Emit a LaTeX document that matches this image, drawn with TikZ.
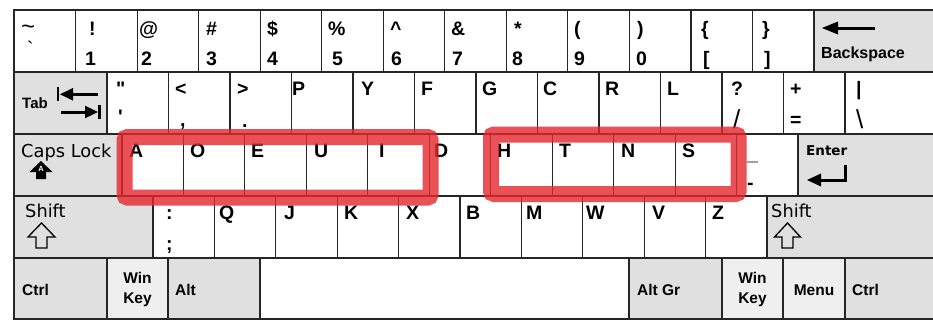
\documentclass[tikz,border=0pt]{standalone}
\usepackage{fontspec}
\setmainfont{Liberation Sans}
\newfontfamily\dvfont{DejaVu Sans}
\definecolor{keygray}{RGB}{224,224,224}
\definecolor{keylight}{RGB}{239,239,239}
\definecolor{hlred}{RGB}{228,38,44}
\begin{document}
\begin{tikzpicture}[x=1pt,y=-1pt,
  keyw/.style={draw=black!85,line width=1.1pt,fill=white},
  keyg/.style={keyw,fill=keygray},
  keyl/.style={keyw,fill=keylight},
  lab/.style={anchor=base west,inner sep=0pt,font=\bfseries\fontsize{19.5}{19.5}\selectfont},
  labr/.style={anchor=base west,inner sep=0pt,font=\fontsize{19.5}{19.5}\selectfont},
  thinlab/.style={anchor=base west,inner sep=0pt,font=\fontsize{26}{26}\selectfont},
  modlab/.style={anchor=base west,inner sep=0pt,font=\bfseries\fontsize{15.5}{15.5}\selectfont},
  modc/.style={modlab,anchor=base},
  dvlab/.style={anchor=base west,inner sep=0pt,font=\dvfont\fontsize{17.8}{17.8}\selectfont},
  dvbold/.style={anchor=base west,inner sep=0pt,font=\dvfont\bfseries\fontsize{13.5}{13.5}\selectfont},
  hl/.style={draw=hlred,draw opacity=0.8,line width=16pt,rounded corners=3pt},
  outline/.style={draw=black,line width=1.3pt,line join=miter},
  thickline/.style={draw=black,line width=3pt},
  barline/.style={draw=black,line width=2.5pt},
]
\useasboundingbox (0,0) rectangle (933,324);
\clip (0,0) rectangle (933,324);
% ---------- row 1 ----------
\foreach \i in {0,...,12} {\draw[keyw] ({14+\i*61.54},10) rectangle ({14+(\i+1)*61.54},72);}
\draw[keyg] (814,10) rectangle (940,72);
% ---------- row 2 ----------
\draw[keyg] (14,72) rectangle (107,134);
\foreach \i in {0,...,11} {\draw[keyw] ({107+\i*61.5},72) rectangle ({107+(\i+1)*61.5},134);}
\draw[keyw] (845,72) rectangle (940,134);
% ---------- row 3 ----------
\draw[keyg] (14,134) rectangle (122,196);
\foreach \i in {0,...,10} {\draw[keyw] ({122+\i*61.45},134) rectangle ({122+(\i+1)*61.45},196);}
\draw[keyg] (798,134) rectangle (940,196);
% ---------- row 4 ----------
\draw[keyg] (14,196) rectangle (153,258);
\foreach \i in {0,...,9} {\draw[keyw] ({153+\i*61.4},196) rectangle ({153+(\i+1)*61.4},258);}
\draw[keyg] (767,196) rectangle (940,258);
% ---------- row 5 ----------
\draw[keyg] (14,258) rectangle (107,319);
\draw[keyl] (107,258) rectangle (168,319);
\draw[keyg] (168,258) rectangle (260,319);
\draw[keyw] (260,258) rectangle (629,319);
\draw[keyg] (629,258) rectangle (722,319);
\draw[keyl] (722,258) rectangle (783,319);
\draw[keyl] (783,258) rectangle (845,319);
\draw[keyg] (845,258) rectangle (940,319);

% ---------- row 1 labels ----------
\node[font=\fontsize{24}{24}\selectfont,anchor=base west,inner sep=0pt] (tilde) at (21,34) {\textasciitilde};
\node[labr] (grave) at (27,55) {\textasciigrave};
\node[lab] (excl) at (89,35) {!};      \node[lab] (one) at (85,65) {1};
\node[lab] (at) at (139,35) {@};       \node[lab] (two) at (141,65) {2};
\node[lab] (hash) at (206,35) {\#};    \node[lab] (three) at (206,65) {3};
\node[lab] (dollar) at (267,35) {\$};  \node[lab] (four) at (267,65) {4};
\node[lab] (pct) at (328,35) {\%};     \node[lab] (five) at (332,65) {5};
\node[lab] (caret) at (390,35) {\textasciicircum}; \node[lab] (six) at (391,65) {6};
\node[lab] (amp) at (451,35) {\&};     \node[lab] (seven) at (452,65) {7};
\node[lab] (star) at (514,35) {*};     \node[lab] (eight) at (512,65) {8};
\node[lab] (lpar) at (574,35) {(};     \node[lab] (nine) at (574,65) {9};
\node[lab] (rpar) at (637,35) {)};     \node[lab] (zero) at (636,65) {0};
\node[lab] (lbrace) at (701,35) {\{};  \node[lab] (lbrack) at (703,65) {[};
\node[lab] (rbrace) at (762,35) {\}};  \node[lab] (rbrack) at (764,65) {]};
\node[modlab,font=\bfseries\fontsize{16}{16}\selectfont] (bksp) at (821,58) {Backspace};
\fill (822,28) -- (838,21.5) -- (838,34.5) -- cycle;
\draw[thickline] (836,28) -- (875,28);

% ---------- row 2 labels ----------
\node[modlab,font=\bfseries\fontsize{15}{15}\selectfont] (tab) at (22,108) {Tab};
\draw[barline] (58,87) -- (58,101);
\fill (60,94.3) -- (73,88) -- (73,100.6) -- cycle;
\draw[thickline] (72,94.3) -- (98,94.3);
\draw[thickline] (61,112) -- (86,112);
\fill (98,112) -- (85,105.7) -- (85,118.3) -- cycle;
\draw[barline] (99.5,105) -- (99.5,119);
\node[lab] (dquote) at (116,95) {\textquotedbl}; \node[lab] (squote) at (118,123) {\textquotesingle};
\node[lab] (less) at (175,95) {<};     \node[lab] (comma) at (180,126) {,};
\node[lab] (greater) at (237,95) {>};  \node[lab] (period) at (242,127) {.};
\node[lab] (P) at (292,95) {P};
\node[lab] (Y) at (361,95) {Y};
\node[lab] (F) at (421,95) {F};
\node[lab] (G) at (482,95) {G};
\node[lab] (C) at (543,95) {C};
\node[lab] (R) at (605,95) {R};
\node[lab] (L) at (667,95) {L};
\node[lab] (quest) at (731,95) {?};    \node[thinlab] (slash) at (733,128.5) {/};
\node[lab] (plus) at (790,95) {+};     \node[lab] (equal) at (790,126) {=};
\node[lab] (bar) at (856,95) {|};      \node[thinlab] (bslash) at (856,128.5) {\textbackslash};

% ---------- row 3 labels ----------
\node[dvlab] (caps) at (21,157) {Caps Lock};
\fill (41,161) -- (52.5,172) -- (46,172) -- (46,179) -- (36,179) -- (36,172) -- (29.5,172) -- cycle;
\node[font=\bfseries\fontsize{7.5}{7.5}\selectfont,text=white,inner sep=0pt] (capsA) at (41,168.5) {A};
\node[lab] (A) at (129,157) {A};
\node[lab] (O) at (190,157) {O};
\node[lab] (E) at (251,157) {E};
\node[lab] (U) at (314,157) {U};
\node[lab] (I) at (379,157) {I};
\node[lab] (D) at (434,157) {D};
\node[lab] (H) at (497,157) {H};
\node[lab] (T) at (559,157) {T};
\node[lab] (N) at (621,157) {N};
\node[lab] (S) at (682,157) {S};
\node[lab] (under) at (747,160) {\_};   \node[lab] (minus) at (747,189) {-};
\node[dvbold] (enter) at (806,155) {Enter};
\draw[thickline,line join=miter] (845,165) -- (845,180) -- (818,180);
\fill (807,180) -- (821,173.5) -- (821,186.5) -- cycle;

% ---------- row 4 labels ----------
\node[dvlab] (lshift) at (25,217) {Shift};
\draw[outline] (41.5,223) -- (55,237) -- (47,237) -- (47,248) -- (36,248) -- (36,237) -- (28,237) -- cycle;
\node[lab] (colon) at (166,219) {:};   \node[lab] (semi) at (166,250) {;};
\node[lab] (Q) at (219,219) {Q};
\node[lab] (J) at (284,219) {J};
\node[lab] (K) at (344,219) {K};
\node[lab] (X) at (406,219) {X};
\node[lab] (B) at (466,219) {B};
\node[lab] (M) at (526,219) {M};
\node[lab] (W) at (586,219) {W};
\node[lab] (V) at (652,219) {V};
\node[lab] (Z) at (712,219) {Z};
\node[dvlab] (rshift) at (771,217) {Shift};
\draw[outline] (787.5,223) -- (800.5,237) -- (793,237) -- (793,248) -- (782,248) -- (782,237) -- (774.5,237) -- cycle;

% ---------- row 5 labels ----------
\node[modlab] (lctrl) at (22,295) {Ctrl};
\node[modc] (lwin1) at (137.5,283) {Win};
\node[modc] (lwin2) at (137.5,303) {Key};
\node[modlab] (lalt) at (175,295) {Alt};
\node[modlab] (altgr) at (637,295) {Alt Gr};
\node[modc] (rwin1) at (752.5,283) {Win};
\node[modc] (rwin2) at (752.5,303) {Key};
\node[modc] (menu) at (814,295) {Menu};
\node[modlab] (rctrl) at (852,295) {Ctrl};

% ---------- highlights ----------
\draw[hl] (124.5,137) rectangle (430.5,197.5);
\draw[hl] (491,134.5) rectangle (738.5,194);
\end{tikzpicture}
\end{document}
